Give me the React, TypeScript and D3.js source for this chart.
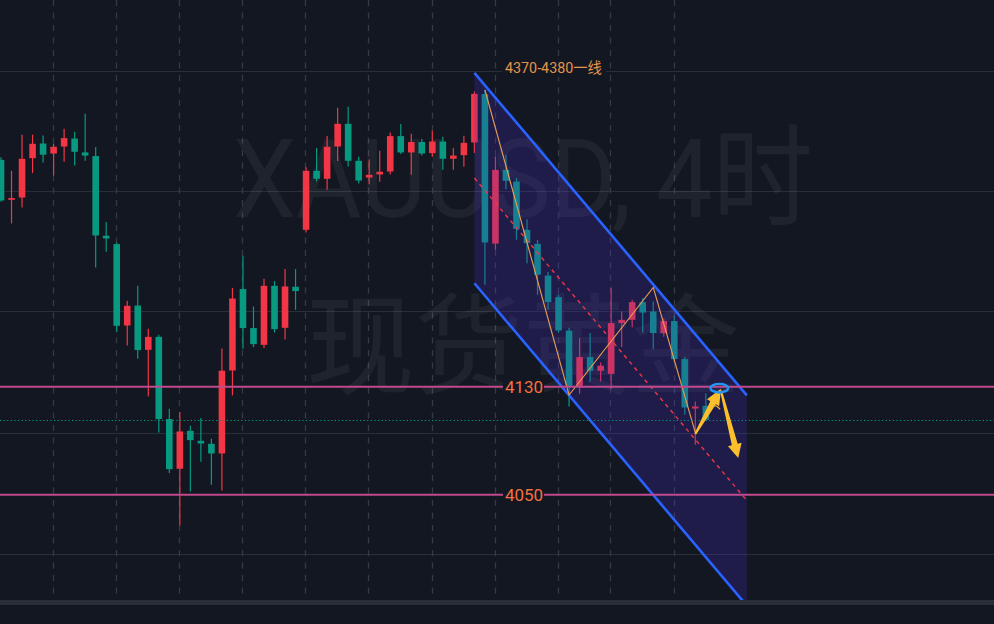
import React from "react";
import * as d3 from "d3";

// ---- data (XAUUSD 4h) ----
const opens = [4298.1,4268.5,4270.2,4299.4,4310.2,4302.8,4308,4313.9,4303.6,4300.9,4241.9,4235.7,4175.4,4190.2,4157.4,4167,4106.1,4069.3,4097.4,4090,4087.8,4080.6,4142.1,4202.4,4173.5,4161.1,4204.8,4173.7,4204.1,4246.3,4290,4284.1,4308,4324.8,4297.4,4285,4287.3,4289.5,4315.7,4303.6,4311.3,4303.1,4311.7,4298.9,4301.6,4311,4346.8,4236.1,4290.7,4282.1,4246.3,4235.9,4212.4,4196.4,4171.7,4130.2,4152,4141.9,4139.6,4177.2,4179.6,4192.7,4185.8,4169.8,4178.7,4150.5,4113.9,4115.9];
const highs = [4300,4290,4316.7,4316.7,4316.1,4310,4321.1,4318.9,4332.2,4307.6,4252,4236.9,4193.7,4204.8,4173,4168.5,4113.7,4111.3,4101.1,4106.8,4091.5,4158.4,4203.3,4227,4189.5,4210,4208.3,4217.2,4217.2,4292.7,4306.8,4315.7,4336.7,4337.4,4300.4,4298.4,4304.8,4318.4,4324.6,4317.4,4313.5,4319.6,4315.2,4306.8,4315.9,4348.7,4350,4300.6,4301.9,4284.6,4254.2,4238.9,4215,4198.1,4173.7,4166.1,4169.8,4148,4203.6,4185.8,4194.4,4195.7,4193.2,4180.6,4182.6,4152,4119.1,4125.3];
const lows = [4267,4251,4262.8,4288.3,4296.1,4286.5,4296.7,4293.9,4297.4,4218.4,4230,4170.5,4160.6,4150.7,4122.8,4096.1,4066.1,4027.3,4052.4,4074.4,4057.4,4053.2,4123.6,4158.1,4159.4,4158.7,4170.2,4165,4187,4244.3,4282.1,4275.9,4297.2,4293.2,4280.6,4280.1,4281.9,4287.3,4302.5,4287,4301.3,4300.4,4290.7,4290.7,4293,4303.1,4205.6,4231.5,4276.4,4238.9,4221.6,4198.1,4187,4170,4115.4,4124.8,4133.9,4133.9,4128.3,4159.4,4174.2,4170.2,4157.9,4167,4148.5,4109.3,4087,4105.1];
const closes = [4268,4269.8,4298.9,4310,4301.9,4307.8,4314.2,4304.1,4301.3,4242.1,4239.9,4175.2,4190,4157.2,4167,4106.1,4069,4096.9,4090.5,4088,4080.6,4141.9,4195.4,4173.5,4161.6,4204.8,4172.7,4204.3,4200.9,4290,4284.1,4307.8,4324.8,4297.4,4282.8,4287,4289.3,4315.7,4303.6,4311.3,4302.8,4311.7,4298.9,4301.3,4310.7,4347,4236.9,4290.7,4282.6,4247,4236.4,4213,4192.7,4171.7,4130.2,4152,4141.9,4145.6,4177.2,4179.6,4192.7,4185,4169.8,4178.7,4150.5,4114.7,4115.4,4105.6];

// grid
const gridPrices = [4364, 4275, 4186, 4096, 4006];
const gridIdx = [5, 11, 17, 23, 29, 35, 41, 47, 53, 58, 64];

// horizontal key levels
const levelPrices = [4130, 4050];
const levelLabels = ["4130", "4050"];
const topLabel = "4370-4380一线";
const topLabelPrice = 4364;

// parallel channel (index, price)
const channelIdx = [45, 70.9];
const channelUpper = [4362.6, 4123.7];
const channelWidth = 155.9;

// zigzag path
const zigIdx = [46, 54, 62, 66];
const zigPrice = [4350, 4123.9, 4203.6, 4096.1];

// arrows [tailIdx, tailPrice, tipIdx, tipPrice]
const arrowUp = [66, 4095, 68.44, 4128.5];
const arrowDown = [68.44, 4127, 70.08, 4077.2];
const ringIdx = 68.28;
const ringPrice = 4129;
const markIdx = [67.7, 68.0, 68.35];
const markPrice = [4115.6, 4116.3, 4113.4];

const watermark1 = "XAUUSD, 4时";
const watermark2 = "现货黄金";

const W = 994, H = 624, PLOT_B = 600;
const BG = "#131722";
const UP = "#f23645", DOWN = "#089981";
const FONT = "Roboto, 'Noto Sans CJK SC', sans-serif";

function arrowPoly(x1: number, y1: number, x2: number, y2: number, headLen: number, headHalf: number, tailHalf: number, shaftHalf: number) {
  const dx = x2 - x1, dy = y2 - y1;
  const L = Math.hypot(dx, dy);
  const ux = dx / L, uy = dy / L;
  const nx = -uy, ny = ux;
  const bx = x2 - ux * headLen, by = y2 - uy * headLen;
  const pts = [
    [x1 + nx * tailHalf, y1 + ny * tailHalf],
    [bx + nx * shaftHalf, by + ny * shaftHalf],
    [bx + nx * headHalf, by + ny * headHalf],
    [x2, y2],
    [bx - nx * headHalf, by - ny * headHalf],
    [bx - nx * shaftHalf, by - ny * shaftHalf],
    [x1 - nx * tailHalf, y1 - ny * tailHalf],
  ];
  return pts.map((p) => p.join(",")).join(" ");
}

export default function App() {
  const x = d3.scaleLinear().domain([0, 67]).range([1, 1 + 10.52 * 67]);
  const y = d3.scaleLinear().domain([4050, 4130]).range([494.8, 386.8]);
  const bodyW = 6.6;

  const ux0 = x(channelIdx[0]), ux1 = x(channelIdx[1]);
  const uy0 = y(channelUpper[0]), uy1 = y(channelUpper[1]);
  const ly0 = y(channelUpper[0] - channelWidth), ly1 = y(channelUpper[1] - channelWidth);
  const my0 = (uy0 + ly0) / 2, my1 = (uy1 + ly1) / 2;

  const zig = d3.line<number>().x((_, i) => x(zigIdx[i])).y((_, i) => y(zigPrice[i]))(zigPrice);
  const mark = d3.line<number>().x((_, i) => x(markIdx[i])).y((_, i) => y(markPrice[i])).curve(d3.curveBasis)(markPrice);
  const last = closes[closes.length - 1];

  return (
    <div style={{ position: "fixed", left: 0, top: 0, width: W, height: H }}>
      <svg width={W} height={H} style={{ display: "block" }}>
        <defs>
          <clipPath id="plot">
            <rect x={0} y={0} width={W} height={PLOT_B} />
          </clipPath>
        </defs>
        <rect x={0} y={0} width={W} height={H} fill={BG} />
        <g clipPath="url(#plot)">
          {/* grid */}
          {gridPrices.map((p, i) => (
            <line key={"gh" + i} x1={0} x2={W} y1={Math.round(y(p)) + 0.5} y2={Math.round(y(p)) + 0.5} stroke="#2a2e39" strokeWidth={1} />
          ))}
          {gridIdx.map((d, i) => (
            <line key={"gv" + i} x1={Math.round(x(d) - 0.7) + 0.5} x2={Math.round(x(d) - 0.7) + 0.5} y1={0} y2={PLOT_B} stroke="#363a45" strokeWidth={1.3} strokeDasharray="6 6.5" />
          ))}
          {/* watermark */}
          <text x={233} y={217} fontFamily={FONT} fontSize={110} fill="rgba(255,255,255,0.055)" textLength={580} lengthAdjust="spacingAndGlyphs">{watermark1}</text>
          <text x={306} y={386} fontFamily={FONT} fontSize={110} fill="rgba(255,255,255,0.055)" textLength={434} lengthAdjust="spacingAndGlyphs">{watermark2}</text>
          {/* candles */}
          {opens.map((o, i) => {
            const c = closes[i];
            const col = c >= o ? UP : DOWN;
            const cx = x(i);
            const top = y(Math.max(o, c));
            const bot = y(Math.min(o, c));
            return (
              <g key={"c" + i}>
                <line x1={cx} x2={cx} y1={y(highs[i])} y2={y(lows[i])} stroke={col} strokeWidth={1.2} />
                <rect x={cx - bodyW / 2} y={top} width={bodyW} height={Math.max(1.5, bot - top)} fill={col} />
              </g>
            );
          })}
          {/* channel fill */}
          <polygon points={`${ux0},${uy0} ${ux1},${uy1} ${ux1},${ly1} ${ux0},${ly0}`} fill="rgba(70,45,200,0.24)" />
          <line x1={ux0} y1={uy0} x2={ux1} y2={uy1} stroke="#2962ff" strokeWidth={2.6} />
          <line x1={ux0} y1={ly0} x2={ux1} y2={ly1} stroke="#2962ff" strokeWidth={2.6} />
          <line x1={ux0} y1={my0} x2={ux1} y2={my1} stroke={UP} strokeWidth={1.4} strokeDasharray="4 4" />
          {/* zigzag */}
          <path d={zig || ""} fill="none" stroke="#e29a55" strokeWidth={1.2} />
          {/* levels */}
          {levelPrices.map((p, i) => (
            <line key={"lv" + i} x1={0} x2={W} y1={y(p)} y2={y(p)} stroke="#c04a8e" strokeWidth={2} />
          ))}
          {/* last price */}
          <line x1={0} x2={W} y1={Math.round(y(last)) + 0.5} y2={Math.round(y(last)) + 0.5} stroke={DOWN} strokeWidth={1.2} strokeDasharray="1.2 2.4" />
        </g>
        {/* level labels */}
        {levelPrices.map((p, i) => (
          <g key={"ll" + i}>
            <rect x={503} y={y(p) - 9} width={41} height={18} fill={BG} />
            <text x={524} y={y(p)} dy="0.36em" textAnchor="middle" fontFamily={FONT} fontSize={17} fill="#f5703f">{levelLabels[i]}</text>
          </g>
        ))}
        <rect x={502} y={y(topLabelPrice) - 8} width={104} height={14} fill={BG} />
        <text x={505} y={y(topLabelPrice) + 2.5} fontFamily={FONT} fontSize={14.3} fill="#e3944c">{topLabel}</text>
        {/* arrows */}
        <polygon points={arrowPoly(x(arrowUp[0]), y(arrowUp[1]), x(arrowUp[2]), y(arrowUp[3]), 16, 7, 1, 3.2)} fill="#fbbf2d" />
        <polygon points={arrowPoly(x(arrowDown[0]), y(arrowDown[1]), x(arrowDown[2]), y(arrowDown[3]), 14, 7, 1, 3)} fill="#fbbf2d" />
        <path d={mark || ""} fill="none" stroke="#e6a93c" strokeWidth={1.4} />
        <ellipse cx={x(ringIdx)} cy={y(ringPrice)} rx={8.8} ry={4.3} fill="none" stroke="#2196f3" strokeWidth={2.4} />
        {/* bottom separator */}
        <rect x={0} y={PLOT_B} width={W} height={5} fill="#2a2e39" />
      </svg>
    </div>
  );
}
